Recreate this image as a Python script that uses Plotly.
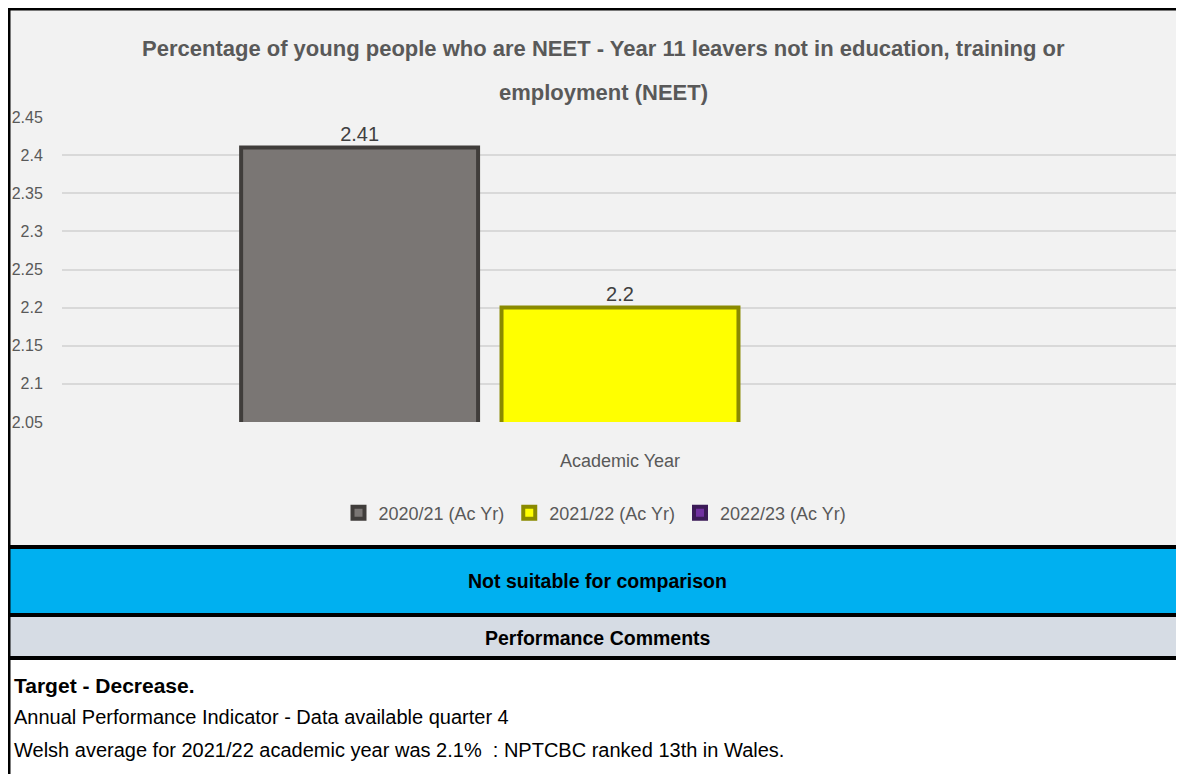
import plotly.graph_objects as go

# ---- data ----
categories = ["Academic Year"]
series_names = ["2020/21 (Ac Yr)", "2021/22 (Ac Yr)", "2022/23 (Ac Yr)"]
series_values = [[2.41], [2.2], [None]]
series_colors = ["#7a7674", "#ffff00", "#7030a0"]
series_edges = ["#403d3b", "#8a8a00", "#3b1a57"]
y_ticks = [2.05, 2.1, 2.15, 2.2, 2.25, 2.3, 2.35, 2.4, 2.45]
title_lines = ["Percentage of young people who are NEET - Year 11 leavers not in education, training or",
               "employment (NEET)"]
band1_text = "Not suitable for comparison"
band2_text = "Performance Comments"
comment_lines = ["<b>Target - Decrease.</b>",
                 "Annual Performance Indicator - Data available quarter 4",
                 "Welsh average for 2021/22 academic year was 2.1%  : NPTCBC ranked 13th in Wales."]

# page is offset by the 8px body margin, so the figure is sized to fill the rest of the window
OFF = 8
W, H = 1184 - OFF, 782 - 2 * OFF
FONT = "Liberation Sans, Arial, sans-serif"


def px(x):
    return (x - OFF) / W


def py(y):
    return 1 - (y - OFF) / H


fig = go.Figure()
for name, vals, col, edge in zip(series_names, series_values, series_colors, series_edges):
    fig.add_trace(go.Bar(
        name=name, x=categories, y=vals,
        marker=dict(color=col, line=dict(color=edge, width=4)),
        texttemplate="%{y}", textposition="outside", cliponaxis=False,
        textfont=dict(color="#404040", size=20, family=FONT),
    ))

EDGE = 9  # border line position (page px)
shapes = []
shapes.append(dict(type="rect", xref="paper", yref="paper", x0=px(EDGE), x1=px(1184), y0=py(547), y1=py(EDGE),
                   fillcolor="#f2f2f2", line=dict(width=0), layer="below"))
shapes.append(dict(type="rect", xref="paper", yref="paper", x0=px(EDGE), x1=px(1184), y0=py(615), y1=py(547),
                   fillcolor="#00b0f0", line=dict(width=0), layer="below"))
shapes.append(dict(type="rect", xref="paper", yref="paper", x0=px(EDGE), x1=px(1184), y0=py(658), y1=py(615),
                   fillcolor="#d6dce4", line=dict(width=0), layer="below"))
for yy, lw in [(EDGE, 3), (547, 4), (615, 4), (658, 4)]:
    shapes.append(dict(type="line", xref="paper", yref="paper", x0=px(EDGE - 1.5), x1=px(1184), y0=py(yy), y1=py(yy),
                       line=dict(color="#000000", width=lw)))
shapes.append(dict(type="line", xref="paper", yref="paper", x0=px(EDGE), x1=px(EDGE), y0=py(790), y1=py(EDGE - 1.5),
                   line=dict(color="#000000", width=3)))

annotations = []
for line, yy in zip(title_lines, [48, 93]):
    annotations.append(dict(text="<b>%s</b>" % line, x=px(603), y=py(yy), xref="paper", yref="paper",
                            showarrow=False, xanchor="center", yanchor="middle",
                            font=dict(family=FONT, size=22, color="#595959")))
annotations.append(dict(text="<b>%s</b>" % band1_text, x=px(598), y=py(581), xref="paper", yref="paper",
                        showarrow=False, xanchor="center", yanchor="middle",
                        font=dict(family=FONT, size=19.5, color="#000000")))
annotations.append(dict(text="<b>%s</b>" % band2_text, x=px(598), y=py(638), xref="paper", yref="paper",
                        showarrow=False, xanchor="center", yanchor="middle",
                        font=dict(family=FONT, size=19.5, color="#000000")))
for line, yy, sz in zip(comment_lines, [685, 717, 750], [21, 20, 20]):
    annotations.append(dict(text=line, x=px(12), y=py(yy), xref="paper", yref="paper",
                            showarrow=False, xanchor="left", yanchor="middle",
                            font=dict(family=FONT, size=sz, color="#000000")))

fig.update_layout(
    width=W, height=H, autosize=False,
    margin=dict(l=0, r=0, t=0, b=0, pad=0, autoexpand=False),
    paper_bgcolor="#ffffff", plot_bgcolor="rgba(0,0,0,0)",
    barmode="group", bargap=0.3, bargroupgap=0.09,
    showlegend=True,
    legend=dict(orientation="h", x=px(595), y=py(513), xanchor="center", yanchor="middle",
                font=dict(family=FONT, size=18, color="#595959"), bgcolor="rgba(0,0,0,0)",
                itemwidth=30),
    xaxis=dict(domain=[px(62), px(1178)], type="category", showgrid=False, showline=False,
               automargin=False,
               ticks="outside", ticklen=22, tickcolor="rgba(0,0,0,0)",
               tickfont=dict(family=FONT, size=18, color="#595959")),
    yaxis=dict(domain=[py(422), py(117)], range=[2.05, 2.45], tickvals=y_ticks,
               ticktext=[("%g" % v) for v in y_ticks], automargin=False,
               showgrid=True, gridcolor="#d9d9d9", gridwidth=2, zeroline=False, showline=False,
               ticks="outside", ticklen=15, tickcolor="rgba(0,0,0,0)",
               tickfont=dict(family=FONT, size=16, color="#595959")),
    shapes=shapes, annotations=annotations,
)

fig.write_html("out.html")
